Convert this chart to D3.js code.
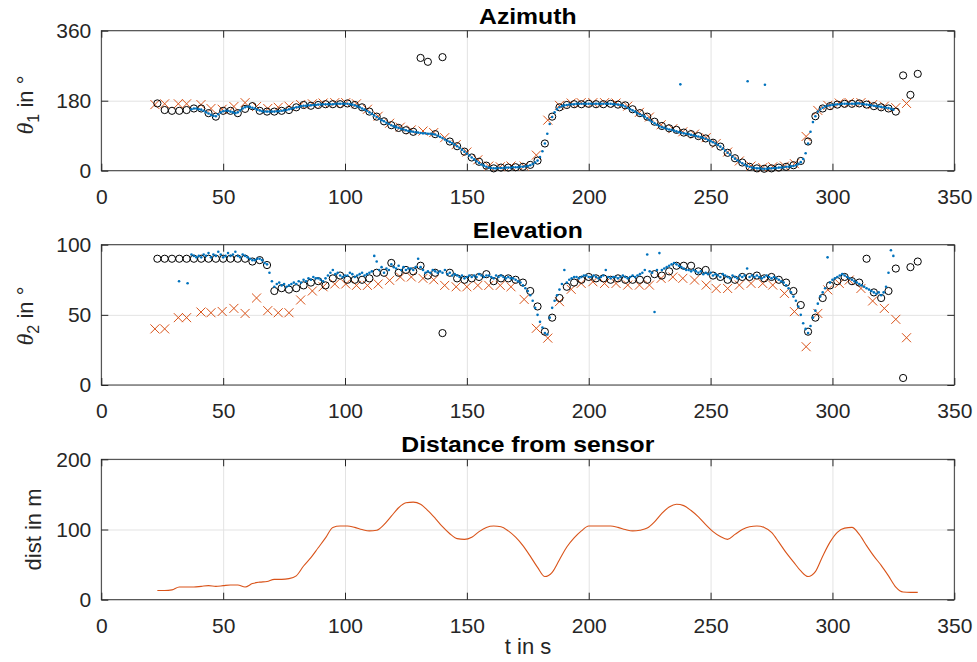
<!DOCTYPE html>
<html>
<head>
<meta charset="utf-8">
<script src="https://cdn.jsdelivr.net/npm/d3@7"></script>
<style>
    body { margin: 0; background: #fff; }
    svg { display: block; font-family: 'Liberation Sans', Arial, sans-serif; }
</style>
</head>
<body>
<svg id="chart" width="977" height="662"></svg>
<script>
    // time axis of the three panels
    const xTicks = [0, 50, 100, 150, 200, 250, 300, 350];

    // black circles, one every 3 s from t = 23
    const circleT0 = 23, circleDt = 3;
    const azCircle = [173,156,154,154,156,160,160,148,139,154,
        154,148,159,166,154,152,152,154,156,163,
        169,167,169,171,171,171,173,169,163,152,
        139,127,117,110,104,100,290,280,94,292,
        75,63,49,34,23,13,6,8,8,9,
        10,15,26,70,139,163,169,171,171,172,
        171,171,172,170,168,158,148,139,126,115,
        109,105,98,94,89,83,72,62,46,32,
        21,10,6,5,6,8,10,14,25,75,
        140,160,166,170,172,172,173,170,166,163,
        160,152,245,195,249];
    const elCircle = [90,90,90,90,90,90,90,90,90,90,
        90,90,90,88,89,85.5,67,69,68,69,
        71,73,74,71,76,78,75,75,75,76,
        80,80,87,80,82,81,85,78,80,37,
        80,76,75,76,77,79,74,76,76,75,
        73,67,56,38,48,62,70,73,75,77,
        76,76,75,76,75,75,75,75,79,78,
        81,85,85,85,81,82,78,77,75,75,
        77,77,78,76,77,75,73,67,57,38,
        48,62,71,74,77,74,73,90,66,62,
        67,83,5,84,88];

    // orange crosses
    const crossT = [22,26,31.6,35,40.9,45,49.6,54.4,59,63.7,
        68.3,72.6,77,81.8,86.6,91,95.8,100.3,104.7,109.2,
        113.6,118.3,122.7,127.2,132,136.4,140.9,145.6,150,154.5,
        159,163.7,168.1,173.5,178.5,183.2,188,192.8,196.9,201.7,
        206.5,211.2,216,220.8,224.9,229.7,234.5,238.6,243.4,248.2,
        252.3,257,261.8,266.6,271.4,275.5,280.3,284.4,289.2,294,
        298.1,302.8,306.9,311.7,316.5,321.3,326,330.4];
    const azCross = [170,172,172,172,170,160,158,165,175,165,
        160,163,166,170,172,174,175,175,172,158,
        140,122,112,105,102,98,85,67,48,28,
        12,10,12,12,40,130,168,174,175,175,
        175,174,166,150,138,118,108,100,94,85,
        70,48,25,12,8,10,12,18,88,155,
        168,174,175,175,170,166,162,173];
    const elCross = [40,40,48,48,52,51.5,52.4,54.6,51,62,
        53,51.5,51.5,60.6,67,70,72,72,71,71,
        72,74.6,77,77,76,75,71,70,70,71,
        71,71,70,61,40.4,33.4,59.4,68.2,72.4,73.6,
        72.4,72.4,71.2,71.2,71.2,76,77,76,74.8,71.2,
        68.8,68.8,71.2,72.4,72.4,71.2,65.3,52.3,27.3,51,
        67.8,72.4,74.8,68.8,59.9,54.6,46.8,33.7];

    // blue dots, one every second from t = 37 to 325
    const dotT0 = 37, dotDt = 1;
    const azDot = [158,160,160,158,
        157,154,150,147,144,141,140,
        145,150,153,154,154,152,150,148,150,
        155,160,163,165,164,162,
        160,157,155,153,152,152,152,152,152,153,153,154,155,156,158,159,161,
        163,164,166,167,167,168,168,169,169,170,170,171,171,171,171,171,172,172,172,172,172,
        172,171,170,168,166,163,160,157,154,150,146,142,138,134,130,127,123,120,117,114,112,110,108,106,104,102,101,100,
        99,98,97,96,96,95,95,94,93,
        90,87,84,80,77,74,71,67,63,59,54,49,44,39,34,29,24,20,16,13,10,8,7,
        6,6,7,7,7,8,8,8,9,9,9,10,10,11,12,14,17,21,
        26,35,50,70,95,120,138,150,158,163,166,168,
        169,170,171,171,172,172,172,172,172,172,172,172,172,172,172,172,172,172,172,171,171,
        170,169,168,165,162,158,155,152,148,145,142,139,135,130,126,122,118,115,112,110,108,106,105,103,101,99,98,96,95,
        94,92,91,89,88,86,84,82,79,76,73,70,66,62,57,52,46,41,36,31,27,23,19,15,12,10,8,7,6,6,
        5,5,5,6,6,7,7,8,8,9,10,10,11,12,14,17,22,30,45,
        70,100,125,140,152,158,162,165,167,168,169,
        170,171,171,172,172,172,172,172,172,173,173,172,171,170,169,168,167,166,165,164,163,162,161,159,157];
    const elDot = [93,92,91,92,91,93,92,94,91,93,92,95,93,91,92,94,92,93,95,92,91,93,92,91,
        90,89,89,90,90,89,87,86,80,74,70,
        72,73,71,72,70,71,72,73,72,74,73,75,74,76,75,77,76,76,75,74,76,78,80,82,79,80,78,77,78,
        78,80,79,77,78,79,80,78,79,80,81,92,88,82,84,80,83,82,86,84,83,85,82,84,82,83,83,82,84,90,84,82,80,81,80,
        82,81,80,81,80,82,79,80,78,79,78,77,78,76,77,78,77,78,77,79,78,77,78,78,77,76,78,77,78,77,76,77,76,76,75,74,73,71,69,67,
        64,60,55,50,45,41,37,36,48,55,60,64,68,72,82,73,75,76,77,77,76,77,78,78,77,
        77,78,77,76,77,78,82,77,76,77,77,76,77,78,77,76,77,78,77,78,79,80,82,93,81,80,52,82,94,82,
        83,84,85,86,87,86,85,84,83,82,82,81,82,81,80,81,79,80,79,80,78,79,78,77,79,78,77,76,78,77,
        76,78,77,78,83,77,78,77,78,77,76,77,78,77,76,77,76,75,74,73,71,69,66,63,60,
        56,50,44,40,37,42,48,53,58,63,66,69,91,73,75,
        76,77,78,79,78,77,76,75,74,73,72,71,70,69,68,67,66,65,66,64,66,70,80,96,92];
    // stray blue dots off the regular run
    const azDotExtraT = [237.6, 265.2, 272.3];
    const azDotExtra = [222, 230, 221];
    const elDotExtraT = [31.9, 35.4];
    const elDotExtra = [74, 72.5];

    // distance from sensor, every 3 s from t = 23
    const distT0 = 23, distDt = 3;
    const distance = [13,13,14,18,18,18,19,20,19,20,
        21,21,18,23,25,26,29,29,30,34,
        48,60,74,88,103,105,105,103,100,98,
        99,107,119,131,138,139,136,127,116,104,
        94,87,86,89,97,103,105,104,98,89,
        77,62,46,33,39,57,75,88,98,105,
        105,105,105,103,100,98,99,102,111,123,
        132,136,134,127,118,107,97,90,86,93,
        100,104,105,103,96,82,67,54,41,33,
        40,62,82,96,102,103,93,77,62,49,
        34,18,11,10.5,10.5];

    const blue = "#0072BD", orange = "#D95319", axisColor = "#262626";

    const svg = d3.select("#chart");
    const x = d3.scaleLinear().domain([0, 350]).range([101.3, 954.3]);

    const tOf = (t0, dt) => (d, i) => t0 + dt * i;

    function drawPanel(top, bottom, yDomain, yTicks, title) {
        const y = d3.scaleLinear().domain(yDomain).range([bottom, top]);
        const g = svg.append("g");
        const h = bottom - top, w = x.range()[1] - x.range()[0];

        // grid
        g.append("g").attr("transform", `translate(0,${bottom})`)
            .call(d3.axisBottom(x).tickValues(xTicks).tickSize(-h).tickFormat(""))
            .call(a => a.select(".domain").remove())
            .call(a => a.selectAll("line").attr("stroke", "#e3e3e3"));
        g.append("g").attr("transform", `translate(${x.range()[0]},0)`)
            .call(d3.axisLeft(y).tickValues(yTicks).tickSize(-w).tickFormat(""))
            .call(a => a.select(".domain").remove())
            .call(a => a.selectAll("line").attr("stroke", "#e3e3e3"));

        // box
        g.append("rect").attr("x", x.range()[0]).attr("y", top)
            .attr("width", w).attr("height", h)
            .attr("fill", "none").attr("stroke", axisColor).attr("stroke-width", 0.9);

        // inward ticks on all four sides
        const styleAxis = a => {
            a.select(".domain").remove();
            a.selectAll("line").attr("stroke", axisColor);
            a.selectAll("text").attr("fill", axisColor).style("font-size", "21px");
        };
        g.append("g").attr("transform", `translate(0,${bottom})`)
            .call(d3.axisBottom(x).tickValues(xTicks).tickSizeInner(-7).tickPadding(18).tickFormat(d3.format("d")))
            .call(styleAxis);
        g.append("g").attr("transform", `translate(0,${top})`)
            .call(d3.axisTop(x).tickValues(xTicks).tickSizeInner(-7).tickFormat(""))
            .call(styleAxis);
        g.append("g").attr("transform", `translate(${x.range()[0]},0)`)
            .call(d3.axisLeft(y).tickValues(yTicks).tickSizeInner(-7).tickPadding(10).tickFormat(d3.format("d")))
            .call(styleAxis);
        g.append("g").attr("transform", `translate(${x.range()[1]},0)`)
            .call(d3.axisRight(y).tickValues(yTicks).tickSizeInner(-7).tickFormat(""))
            .call(styleAxis);

        // bold title, a little wider than the font draws it
        g.append("text")
            .attr("transform", `translate(${(x.range()[0] + x.range()[1]) / 2},${top - 7}) scale(1.1,1)`)
            .attr("text-anchor", "middle").attr("font-weight", "bold")
            .style("font-size", "22.5px").attr("fill", "#000").text(title);

        return { g, y };
    }

    function drawCrosses(g, y, ts, vs) {
        const s = 4.5;
        g.append("g").selectAll("path").data(vs).join("path")
            .attr("d", (d, i) => {
                const cx = x(ts[i]), cy = y(d);
                return `M${cx - s},${cy - s}L${cx + s},${cy + s}M${cx - s},${cy + s}L${cx + s},${cy - s}`;
            })
            .attr("stroke", orange).attr("stroke-width", 1).attr("fill", "none");
    }

    function drawCircles(g, y, vs) {
        const tf = tOf(circleT0, circleDt);
        g.append("g").selectAll("circle").data(vs).join("circle")
            .attr("cx", (d, i) => x(tf(d, i))).attr("cy", d => y(d)).attr("r", 3.6)
            .attr("fill", "none").attr("stroke", "#000").attr("stroke-width", 1);
    }

    function drawDots(g, y, vs, extraT, extra) {
        const tf = tOf(dotT0, dotDt);
        const dg = g.append("g").attr("fill", blue);
        dg.selectAll("circle.run").data(vs).join("circle").attr("class", "run")
            .attr("cx", (d, i) => x(tf(d, i))).attr("cy", d => y(d)).attr("r", 1.3);
        dg.selectAll("circle.extra").data(extra).join("circle").attr("class", "extra")
            .attr("cx", (d, i) => x(extraT[i])).attr("cy", d => y(d)).attr("r", 1.3);
    }

    // Azimuth
    const p1 = drawPanel(30.7, 170.7, [0, 360], [0, 180, 360], "Azimuth");
    drawCrosses(p1.g, p1.y, crossT, azCross);
    drawCircles(p1.g, p1.y, azCircle);
    drawDots(p1.g, p1.y, azDot, azDotExtraT, azDotExtra);

    // Elevation
    const p2 = drawPanel(244.7, 385, [0, 100], [0, 50, 100], "Elevation");
    drawCrosses(p2.g, p2.y, crossT, elCross);
    drawCircles(p2.g, p2.y, elCircle);
    drawDots(p2.g, p2.y, elDot, elDotExtraT, elDotExtra);

    // Distance
    const p3 = drawPanel(459.3, 599.7, [0, 200], [0, 100, 200], "Distance from sensor");
    const tf = tOf(distT0, distDt);
    p3.g.append("path").datum(distance)
        .attr("d", d3.line().x((d, i) => x(tf(d, i))).y(d => p3.y(d)).curve(d3.curveMonotoneX))
        .attr("fill", "none").attr("stroke", orange).attr("stroke-width", 1.1);

    // axis labels
    function thetaLabel(cy, sub) {
        const t = svg.append("text").attr("transform", `translate(33,${cy}) rotate(-90)`)
            .attr("text-anchor", "middle").attr("fill", axisColor).style("font-size", "22px");
        t.append("tspan").attr("font-family", "'Liberation Serif', serif").attr("font-style", "italic")
            .style("font-size", "24px").text("θ");
        t.append("tspan").attr("dy", 6).style("font-size", "16px").text(sub);
        t.append("tspan").attr("dy", -6).text(" in °");
    }
    thetaLabel(105, "1");
    thetaLabel(316, "2");
    svg.append("text").attr("transform", "translate(41,529.5) rotate(-90)")
        .attr("text-anchor", "middle").attr("fill", axisColor).style("font-size", "22px").text("dist in m");
    svg.append("text").attr("x", 528).attr("y", 654).attr("text-anchor", "middle")
        .attr("fill", axisColor).style("font-size", "22px").text("t in s");
</script>
</body>
</html>
